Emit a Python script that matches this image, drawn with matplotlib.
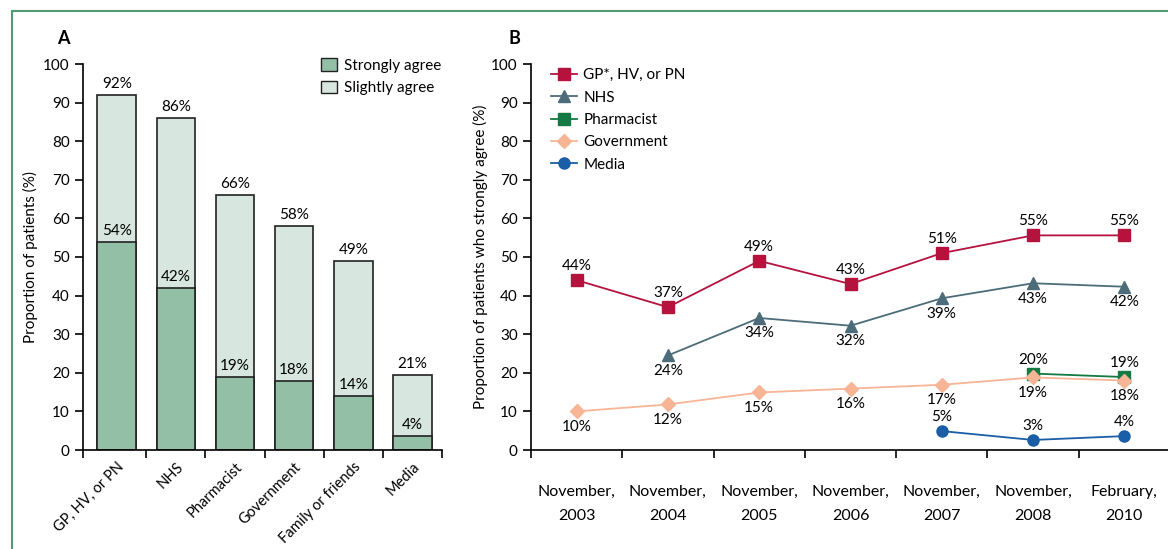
import numpy as np
import matplotlib
matplotlib.use("Agg")
import matplotlib.pyplot as plt
from matplotlib.lines import Line2D
from matplotlib.patches import Patch

plt.rcParams['font.family'] = ['Lato', 'DejaVu Sans']

# panel A
sources = ['GP, HV, or PN', 'NHS', 'Pharmacist', 'Government', 'Family or friends', 'Media']
total = [92, 86, 66, 58, 49, 19.5]
strongly = [54, 42, 19, 18, 14, 3.7]
total_lbl = ['92%', '86%', '66%', '58%', '49%', '21%']
strong_lbl = ['54%', '42%', '19%', '18%', '14%', '4%']

# panel B
periods = ['November,\n2003', 'November,\n2004', 'November,\n2005', 'November,\n2006',
           'November,\n2007', 'November,\n2008', 'February,\n2010']
gp = [44, 37, 49, 43, 51, 55.6, 55.6]
nhs = [np.nan, 24.5, 34.2, 32.2, 39.3, 43.2, 42.3]
pharm = [np.nan, np.nan, np.nan, np.nan, np.nan, 19.8, 18.9]
govt = [10, 11.8, 14.9, 15.9, 16.9, 18.8, 18]
media = [np.nan, np.nan, np.nan, np.nan, 4.9, 2.6, 3.6]
gp_lbl = ['44%', '37%', '49%', '43%', '51%', '55%', '55%']
nhs_lbl = ['', '24%', '34%', '32%', '39%', '43%', '42%']
pharm_lbl = ['', '', '', '', '', '20%', '19%']
govt_lbl = ['10%', '12%', '15%', '16%', '17%', '19%', '18%']
media_lbl = ['', '', '', '', '5%', '3%', '4%']

fig = plt.figure(figsize=(11.68, 5.49), dpi=100)

# green frame
fig.add_artist(Line2D([12/1168, 1], [1-11/549, 1-11/549], color='#4f9a72', lw=1.5))
fig.add_artist(Line2D([12/1168, 12/1168], [0, 1-11/549], color='#4f9a72', lw=1.5))

dark = '#222222'
fs = 11

# ---- A ----
axA = fig.add_axes([83/1168, 99/549, 359/1168, 386/549])
x = np.arange(len(sources))
axA.bar(x, total, width=0.65, color='#d7e7df', edgecolor=dark, lw=1.2, label='Slightly agree')
axA.bar(x, strongly, width=0.65, color='#93bfa7', edgecolor=dark, lw=1.2, label='Strongly agree')
for i in range(len(sources)):
    axA.text(x[i], total[i] + 1, total_lbl[i], ha='center', va='bottom', fontsize=fs)
    axA.text(x[i], strongly[i] + 1, strong_lbl[i], ha='center', va='bottom', fontsize=fs)
axA.set_xlim(-0.57, len(sources) - 0.5)
axA.set_ylim(0, 100)
axA.set_yticks(range(0, 101, 10))
axA.set_xticks(x)
axA.set_xticklabels(sources, rotation=45, ha='right', rotation_mode='anchor', fontsize=10.5)
axA.tick_params(axis='x', length=0, pad=7)
axA.set_xticks([-0.57] + list(np.arange(0.5, len(sources))), minor=True)
axA.tick_params(axis='x', which='minor', length=6, width=1.2)
axA.tick_params(axis='y', length=6, width=1.2, labelsize=fs)
for s in ['top', 'right']:
    axA.spines[s].set_visible(False)
for s in ['left', 'bottom']:
    axA.spines[s].set_linewidth(1.2)
axA.set_ylabel('Proportion of patients (%)', fontsize=fs, labelpad=4)
h = [Patch(facecolor='#93bfa7', edgecolor=dark), Patch(facecolor='#d7e7df', edgecolor=dark)]
axA.legend(h, ['Strongly agree', 'Slightly agree'], loc='upper right', bbox_to_anchor=(1.035, 1.05),
           frameon=False, fontsize=fs, handlelength=1.1, handleheight=0.9, handletextpad=0.4,
           labelspacing=0.5)
fig.text(57/1168, 1-38/549, 'A', fontsize=13, fontweight='bold', va='center')

# ---- B ----
axB = fig.add_axes([531/1168, 99/549, 639/1168, 386/549])
xb = np.arange(len(periods))
series = [
    (gp, gp_lbl, 'GP*, HV, or PN', '#b5123e', 's', 8, 1),
    (nhs, nhs_lbl, 'NHS', '#4d6c7a', '^', 8, -1),
    (pharm, pharm_lbl, 'Pharmacist', '#127a42', 's', 8, 1),
    (govt, govt_lbl, 'Government', '#f8b596', 'D', 7, -1),
    (media, media_lbl, 'Media', '#1a5ea8', 'o', 8, 1),
]
for vals, lbls, name, col, mk, ms, side in series:
    axB.plot(xb, vals, color=col, marker=mk, ms=ms, lw=1.3, label=name)
    for i, (v, t) in enumerate(zip(vals, lbls)):
        if t and not np.isnan(v):
            if side > 0:
                axB.text(xb[i], v + 1.8, t, ha='center', va='bottom', fontsize=fs)
            else:
                axB.text(xb[i], v - 2.2, t, ha='center', va='top', fontsize=fs)
axB.set_xlim(-0.5, len(periods) - 0.5)
axB.set_ylim(0, 100)
axB.set_yticks(range(0, 101, 10))
axB.set_xticks(xb)
axB.set_xticklabels(periods, fontsize=11.5, linespacing=1.95)
axB.tick_params(axis='x', length=0, pad=25)
axB.set_xticks(np.arange(-0.5, len(periods)), minor=True)
axB.tick_params(axis='x', which='minor', length=6, width=1.2)
axB.tick_params(axis='y', length=6, width=1.2, labelsize=fs)
for s in ['top', 'right']:
    axB.spines[s].set_visible(False)
for s in ['left', 'bottom']:
    axB.spines[s].set_linewidth(1.2)
axB.set_ylabel('Proportion of patients who strongly agree (%)', fontsize=fs, labelpad=2)
axB.legend(loc='upper left', bbox_to_anchor=(0.01, 1.025), frameon=False, fontsize=fs,
           handlelength=1.7, handletextpad=0.4, labelspacing=0.55)
fig.text(508/1168, 1-38/549, 'B', fontsize=13, fontweight='bold', va='center')

fig.savefig('out.png', dpi=100)
